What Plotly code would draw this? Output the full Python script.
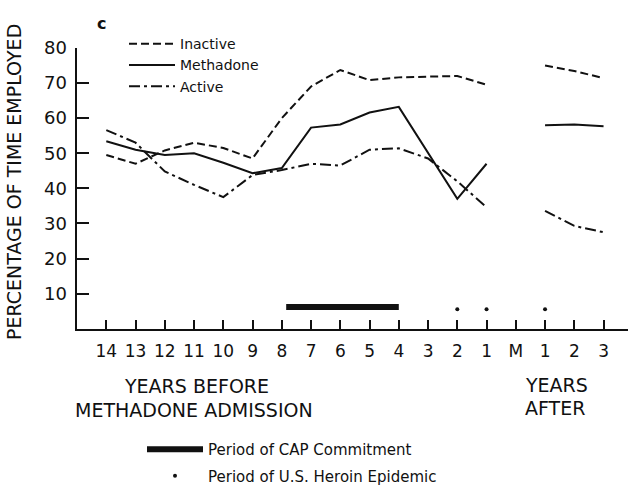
import plotly.graph_objects as go

# ---- data ----
tick_labels = ["14", "13", "12", "11", "10", "9", "8", "7", "6", "5", "4", "3", "2", "1", "M", "1", "2", "3"]
positions = list(range(len(tick_labels)))

inactive = [49.5, 47.0, 50.8, 53.0, 51.5, 48.5, 60.0, 69.0, 73.7, 70.8, 71.6, 71.8, 72.0, 69.5, None, 75.0, 73.4, 71.4]
methadone = [53.4, 51.0, 49.5, 50.0, 47.3, 44.3, 45.8, 57.3, 58.2, 61.6, 63.2, 50.0, 37.0, 47.0, None, 58.0, 58.2, 57.7]
active = [56.6, 53.0, 44.8, 41.0, 37.5, 43.8, 45.2, 47.0, 46.5, 51.0, 51.4, 48.5, 42.0, 34.6, None, 33.6, 29.3, 27.5]

cap_x = [6.15, 10.0]          # period of CAP commitment (axis positions)
cap_y = [6.2, 6.2]
epidemic_x = [12, 13, 15]     # years of U.S. heroin epidemic (axis positions)
epidemic_y = [5.6, 5.6, 5.6]

y_ticks = [10, 20, 30, 40, 50, 60, 70, 80]

W, H = 628, 492
FONT = "DejaVu Sans"
INK = "#111111"

fig = go.Figure()

fig.add_trace(go.Scatter(x=positions, y=inactive, mode="lines", name="Inactive",
                         line=dict(color=INK, width=2, dash="8px,4px"),
                         connectgaps=False, legend="legend"))
fig.add_trace(go.Scatter(x=positions, y=methadone, mode="lines", name="Methadone",
                         line=dict(color=INK, width=2),
                         connectgaps=False, legend="legend"))
fig.add_trace(go.Scatter(x=positions, y=active, mode="lines", name="Active",
                         line=dict(color=INK, width=2, dash="11px,4px,3px,4px"),
                         connectgaps=False, legend="legend"))

fig.add_trace(go.Scatter(x=cap_x, y=cap_y, mode="lines", name="Period of CAP Commitment",
                         line=dict(color=INK, width=6), legend="legend2", legendgroup="cap"))
fig.add_trace(go.Scatter(x=epidemic_x, y=epidemic_y, mode="markers", name="Period of U.S. Heroin Epidemic",
                         marker=dict(color=INK, size=4), legend="legend2", legendgroup="her"))

x0_pix = 76.5
x_step = 29.25
x_first = 106.3
xr0 = (x0_pix - x_first) / x_step
xr1 = (W - x_first) / x_step

y_bottom = 332.7
y_top = 38.6

fig.update_layout(
    width=W, height=H,
    margin=dict(l=0, r=0, t=0, b=0),
    paper_bgcolor="white", plot_bgcolor="white",
    font=dict(family=FONT, color=INK),
    xaxis=dict(domain=[x0_pix / W, 1], range=[xr0, xr1],
               tickmode="array", tickvals=positions, ticktext=tick_labels,
               ticks="inside", ticklen=9, tickwidth=1.5, tickcolor=INK,
               showline=True, linewidth=2, linecolor=INK,
               showgrid=False, zeroline=False,
               tickfont=dict(family=FONT, size=17, color=INK),
               ticklabelstandoff=6),
    yaxis=dict(domain=[1 - y_bottom / H, 1 - y_top / H], range=[0, 80],
               tickmode="array", tickvals=y_ticks,
               ticks="inside", ticklen=12, tickwidth=2, tickcolor=INK,
               showline=True, linewidth=2, linecolor=INK,
               showgrid=False, zeroline=False,
               tickfont=dict(family=FONT, size=18, color=INK),
               ticklabelstandoff=4),
    legend=dict(x=124 / W, y=1 - 18 / H, xanchor="left", yanchor="top",
                bgcolor="rgba(0,0,0,0)", borderwidth=0,
                font=dict(family=FONT, size=14, color=INK),
                itemwidth=46, tracegroupgap=0),
    legend2=dict(x=142 / W, y=1 - 442 / H, xanchor="left", yanchor="top",
                 bgcolor="rgba(0,0,0,0)", borderwidth=0,
                 font=dict(family=FONT, size=15, color=INK),
                 itemwidth=56, tracegroupgap=4, traceorder="grouped"),
    showlegend=True,
)

ann = [
    dict(text="<b>c</b>", x=101.7 / W, y=1 - 13.3 / H, font=dict(size=16)),
    dict(text="PERCENTAGE OF TIME EMPLOYED", x=14 / W, y=1 - 179 / H, textangle=-90, font=dict(size=19)),
    dict(text="YEARS BEFORE", x=196.8 / W, y=1 - 393 / H, font=dict(size=19)),
    dict(text="METHADONE ADMISSION", x=194 / W, y=1 - 418 / H, font=dict(size=19)),
    dict(text="YEARS", x=523.3 / W, y=1 - 391 / H, xanchor="left", font=dict(size=19)),
    dict(text="AFTER", x=523.3 / W, y=1 - 416 / H, xanchor="left", font=dict(size=19)),
]
for a in ann:
    a.setdefault("xanchor", "center")
    a.update(xref="paper", yref="paper", yanchor="middle", showarrow=False)
    a["font"] = dict(family=FONT, color=INK, **a["font"])
fig.update_layout(annotations=ann)

fig.write_html("out.html")
